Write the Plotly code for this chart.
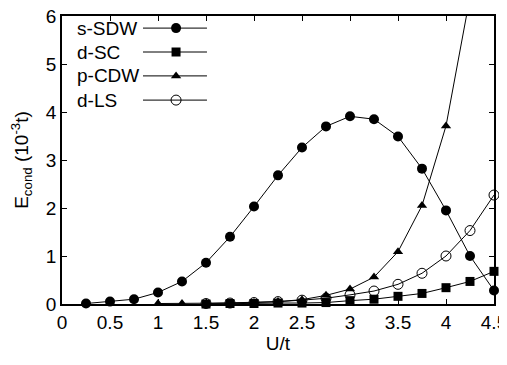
import plotly.graph_objects as go

# Data
u_sdw = [0.25, 0.5, 0.75, 1.0, 1.25, 1.5, 1.75, 2.0, 2.25, 2.5, 2.75, 3.0, 3.25, 3.5, 3.75, 4.0, 4.25, 4.5]
s_sdw = [0.01, 0.05, 0.10, 0.24, 0.47, 0.86, 1.40, 2.03, 2.68, 3.26, 3.70, 3.91, 3.85, 3.49, 2.82, 1.95, 1.00, 0.28]

u_sc = [1.5, 1.75, 2.0, 2.25, 2.5, 2.75, 3.0, 3.25, 3.5, 3.75, 4.0, 4.25, 4.5]
d_sc = [0.0, 0.01, 0.01, 0.02, 0.02, 0.03, 0.07, 0.10, 0.16, 0.22, 0.34, 0.47, 0.68]

u_cdw = [1.0, 1.25, 1.5, 1.75, 2.0, 2.25, 2.5, 2.75, 3.0, 3.25, 3.5, 3.75, 4.0, 4.25]
p_cdw = [0.01, 0.01, 0.01, 0.02, 0.03, 0.05, 0.09, 0.18, 0.31, 0.56, 1.09, 2.05, 3.71, 6.4]

u_ls = [1.5, 1.75, 2.0, 2.25, 2.5, 2.75, 3.0, 3.25, 3.5, 3.75, 4.0, 4.25, 4.5]
d_ls = [0.01, 0.02, 0.03, 0.05, 0.08, 0.12, 0.19, 0.27, 0.41, 0.64, 1.00, 1.53, 2.27]

names = ["s-SDW", "d-SC", "p-CDW", "d-LS"]
x_ticks = [0, 0.5, 1, 1.5, 2, 2.5, 3, 3.5, 4, 4.5]
y_ticks = [0, 1, 2, 3, 4, 5, 6]
Y_MAX = 6

FONT = "Liberation Sans, Arial, sans-serif"
styles = [
    dict(symbol="circle", size=10, color="black", opacity=1, line=dict(width=0)),
    dict(symbol="square", size=9, color="black", opacity=1, line=dict(width=0)),
    dict(symbol="triangle-up", size=9, color="black", opacity=1, line=dict(width=0)),
    dict(symbol="circle-open", size=10, color="black", opacity=1, line=dict(width=1, color="black")),
]
series = [(u_sdw, s_sdw), (u_sc, d_sc), (u_cdw, p_cdw), (u_ls, d_ls)]

fig = go.Figure()
for (xs, ys), st, nm in zip(series, styles, names):
    m = dict(st)
    m["size"] = [st["size"] if v <= Y_MAX else 0 for v in ys]
    fig.add_trace(go.Scatter(
        x=xs, y=ys, mode="lines+markers", name=nm,
        line=dict(color="black", width=1),
        marker=m, cliponaxis=False, showlegend=False,
    ))

# gnuplot-style key: text on the left, sample line with marker on the right
key_y = [0.958, 0.875, 0.792, 0.708]
key_x0, key_x1, key_xm, key_tx = 0.1875, 0.3356, 0.264, 0.03
for st, nm, ky in zip(styles, names, key_y):
    fig.add_trace(go.Scatter(
        x=[key_x0, key_x1], y=[ky, ky], mode="lines",
        line=dict(color="black", width=1), xaxis="x2", yaxis="y2",
        showlegend=False, hoverinfo="skip",
    ))
    fig.add_trace(go.Scatter(
        x=[key_xm], y=[ky], mode="markers", marker=st,
        xaxis="x2", yaxis="y2", showlegend=False, hoverinfo="skip",
        cliponaxis=False,
    ))
    fig.add_annotation(
        x=key_tx, y=ky, xref="x2", yref="y2", text=nm, showarrow=False,
        xanchor="left", yanchor="middle", font=dict(size=19, color="black", family=FONT),
    )

axis_common = dict(
    showgrid=False, zeroline=False, showline=True, linecolor="black", linewidth=1.5,
    mirror="ticks", ticks="inside", ticklen=5, tickwidth=1, tickcolor="black",
    tickfont=dict(size=19, color="black", family=FONT), automargin=False,
    ticklabeloverflow="allow",
)
# the page body adds an 8px offset, so the figure is sized and placed to compensate
fig.update_layout(
    width=499, height=357,
    margin=dict(l=54, r=13, t=8, b=61, autoexpand=False),
    paper_bgcolor="white", plot_bgcolor="white",
    font=dict(family=FONT, color="black", size=19),
    xaxis=dict(range=[0, 4.5], tickvals=x_ticks, ticktext=[f"{v:g}" for v in x_ticks],
               title=dict(text="U/t", font=dict(size=19), standoff=4), **axis_common),
    yaxis=dict(range=[0, 6], tickvals=y_ticks, ticktext=[str(v) for v in y_ticks],
               title=dict(text="E<sub>cond</sub> (10<sup>-3</sup>t)", font=dict(size=19), standoff=14),
               **axis_common),
    xaxis2=dict(range=[0, 1], overlaying="x", visible=False, fixedrange=True),
    yaxis2=dict(range=[0, 1], overlaying="y", visible=False, fixedrange=True),
)

fig.write_html("out.html")
